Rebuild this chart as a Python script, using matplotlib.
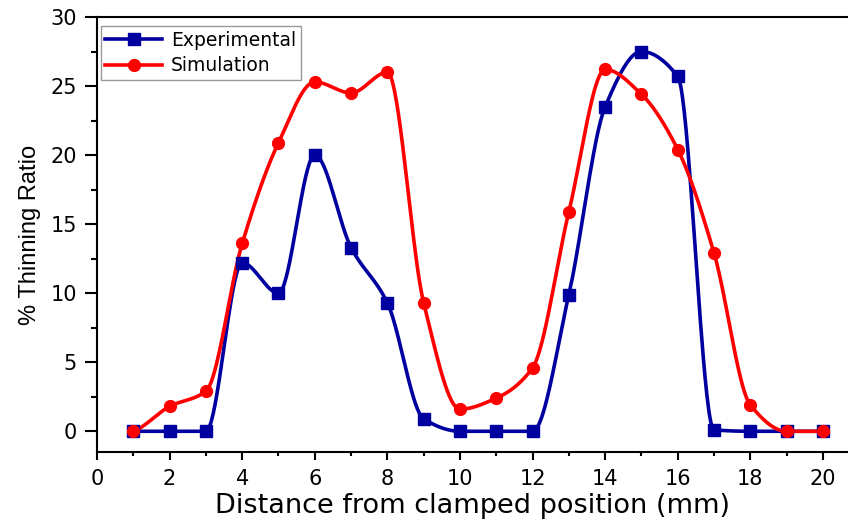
import numpy as np
import matplotlib
matplotlib.use("Agg")
import matplotlib.pyplot as plt
from matplotlib.ticker import MultipleLocator

x = np.arange(1, 21)
experimental = [0, 0, 0, 12.2, 10.0, 20.0, 13.3, 9.3, 0.9, 0, 0, 0, 9.9, 23.5, 27.5, 25.7, 0.1, 0, 0, 0]
simulation = [0, 1.8, 2.9, 13.6, 20.9, 25.3, 24.5, 26.0, 9.3, 1.6, 2.4, 4.6, 15.9, 26.2, 24.4, 20.4, 12.9, 1.9, 0, 0]
xticks = list(range(0, 21, 2))
yticks = [0, 5, 10, 15, 20, 25, 30]

def smooth(xs, ys, n=40):
    """Piecewise cubic Hermite (PCHIP-like) curve through the data points."""
    xs = np.asarray(xs, float); ys = np.asarray(ys, float)
    d = np.diff(ys) / np.diff(xs)
    m = np.zeros_like(ys)
    for i in range(1, len(ys) - 1):
        a, b = d[i - 1], d[i]
        if a * b > 0:
            m[i] = 2 * a * b / (a + b)
        else:
            m[i] = 0.0
    m[0] = d[0] * 0.5
    m[-1] = d[-1] * 0.5
    ox, oy = [], []
    for i in range(len(xs) - 1):
        h = xs[i + 1] - xs[i]
        t = np.linspace(0, 1, n, endpoint=False)
        h00 = 2 * t**3 - 3 * t**2 + 1
        h10 = t**3 - 2 * t**2 + t
        h01 = -2 * t**3 + 3 * t**2
        h11 = t**3 - t**2
        ox.append(xs[i] + t * h)
        oy.append(h00 * ys[i] + h10 * h * m[i] + h01 * ys[i + 1] + h11 * h * m[i + 1])
    ox.append([xs[-1]]); oy.append([ys[-1]])
    return np.concatenate(ox), np.concatenate(oy)

plt.rcParams['font.family'] = ['DejaVu Sans']

fig = plt.figure(figsize=(8.48, 5.24), dpi=100)
ax = fig.add_axes([97/848, 1 - 452/524, 1 - 97/848, (452 - 17)/524])

blue = '#0000A0'
red = '#FF0000'
ex, ey = smooth(x, experimental)
sx, sy = smooth(x, simulation)
ax.plot(ex, ey, color=blue, lw=2.6, zorder=2)
ax.plot(sx, sy, color=red, lw=2.6, zorder=3)
ax.plot(x, experimental, 's', color=blue, ms=8, zorder=4)
ax.plot(x, simulation, 'o', color=red, ms=8.5, zorder=5)

# legend handles
ax.plot([], [], color=blue, lw=2.6, marker='s', ms=8, label='Experimental')
ax.plot([], [], color=red, lw=2.6, marker='o', ms=8.5, label='Simulation')
leg = ax.legend(loc='upper left', bbox_to_anchor=(0.0, 0.988), fontsize=13.5, frameon=True,
                fancybox=False, edgecolor='#808080', handlelength=3.0, borderaxespad=0.2,
                handletextpad=0.5, labelspacing=0.35, borderpad=0.25)
leg.get_frame().set_linewidth(1.0)

ax.set_xlim(0, 20.69)
ax.set_ylim(-1.5, 30)
ax.set_xticks(xticks)
ax.set_yticks(yticks)
ax.xaxis.set_minor_locator(MultipleLocator(1))
ax.yaxis.set_minor_locator(MultipleLocator(2.5))
ax.tick_params(axis='y', which='major', direction='out', length=8.5, width=1.5, labelsize=15, pad=6)
ax.tick_params(axis='y', which='minor', direction='out', length=4, width=1.5)
ax.tick_params(axis='x', which='major', direction='out', length=6, width=1.5, labelsize=15, pad=6)
ax.tick_params(axis='x', which='minor', direction='out', length=3, width=1.5)
for s in ['left', 'bottom', 'top']:
    ax.spines[s].set_linewidth(1.5)
ax.spines['right'].set_visible(False)

ax.set_xlabel('Distance from clamped position (mm)', fontsize=19.5, labelpad=3)
ax.set_ylabel('% Thinning Ratio', fontsize=17,
              family=['Liberation Sans', 'DejaVu Sans'], labelpad=7)

fig.savefig('out.png', dpi=100)
